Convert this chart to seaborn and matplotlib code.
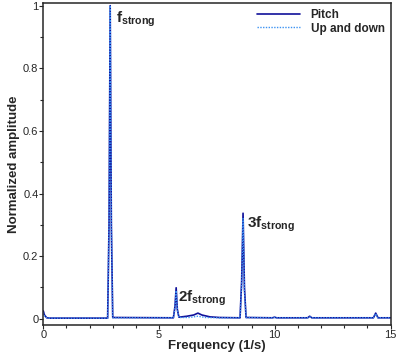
import matplotlib
matplotlib.use("Agg")
import matplotlib.pyplot as plt
import seaborn as sns
import pandas as pd
from matplotlib.ticker import MultipleLocator, FormatStrFormatter

# spectrum (frequency in 1/s, normalized amplitude)
pitch_freq = [0.0, 0.05, 0.15, 0.3, 2.78, 2.84, 2.89, 2.94, 3.0,
              5.62, 5.69, 5.74, 5.79, 5.86, 6.2, 6.5, 6.68, 6.85, 7.2, 7.6,
              8.5, 8.57, 8.63, 8.69, 8.76, 9.9, 9.99, 10.08,
              11.42, 11.51, 11.6, 14.26, 14.36, 14.46, 15.0]
pitch_amp = [0.025, 0.012, 0.003, 0.002, 0.002, 0.3, 1.0, 0.3, 0.004,
             0.003, 0.04, 0.099, 0.03, 0.005, 0.008, 0.012, 0.018, 0.012, 0.006, 0.004,
             0.003, 0.12, 0.337, 0.1, 0.004, 0.003, 0.005, 0.003,
             0.003, 0.008, 0.003, 0.003, 0.018, 0.003, 0.003]

updown_freq = [0.0, 0.05, 0.15, 0.3, 2.78, 2.84, 2.89, 2.94, 3.0,
               5.62, 5.69, 5.74, 5.79, 5.86, 6.3, 6.68, 7.0, 7.6,
               8.5, 8.57, 8.63, 8.69, 8.76, 9.9, 9.99, 10.08,
               11.42, 11.51, 11.6, 14.26, 14.36, 14.46, 15.0]
updown_amp = [0.02, 0.01, 0.003, 0.002, 0.002, 0.3, 1.0, 0.3, 0.003,
              0.003, 0.035, 0.09, 0.028, 0.004, 0.004, 0.008, 0.004, 0.003,
              0.003, 0.11, 0.32, 0.09, 0.004, 0.003, 0.004, 0.003,
              0.003, 0.006, 0.003, 0.003, 0.016, 0.003, 0.003]

x_ticks = [0, 5, 10, 15]

sns.set_style("ticks")
plt.rcParams["font.family"] = ["Liberation Sans", "DejaVu Sans"]
plt.rcParams["mathtext.fontset"] = "custom"
plt.rcParams["mathtext.rm"] = "Liberation Sans:bold"
plt.rcParams["mathtext.bf"] = "Liberation Sans:bold"
plt.rcParams["mathtext.it"] = "Liberation Sans:bold"

df_pitch = pd.DataFrame({"f": pitch_freq, "amp": pitch_amp})
df_ud = pd.DataFrame({"f": updown_freq, "amp": updown_amp})

fig = plt.figure(figsize=(3.99, 3.54), dpi=100)
ax = fig.add_axes([0.1085, 0.0819, 0.8702, 0.9083])

sns.lineplot(data=df_pitch, x="f", y="amp", ax=ax, color="#10109a",
             linewidth=1.2, label="Pitch")
sns.lineplot(data=df_ud, x="f", y="amp", ax=ax, color="#3d93f2",
             linewidth=1.0, linestyle=(0, (1, 1)), label="Up and down")

ax.set_xlim(0, 15)
ax.set_ylim(-0.02, 1.007)
ax.set_xticks(x_ticks)
ax.xaxis.set_minor_locator(MultipleLocator(1))
ax.yaxis.set_major_locator(MultipleLocator(0.2))
ax.yaxis.set_minor_locator(MultipleLocator(0.1))
ax.yaxis.set_major_formatter(FormatStrFormatter("%g"))
ax.tick_params(which="both", direction="out", width=0.8, labelsize=8, pad=0.5)
ax.tick_params(which="major", length=3)
ax.tick_params(which="minor", length=2.5)
for s in ax.spines.values():
    s.set_visible(True)
    s.set_linewidth(1.1)

ax.set_xlabel("Frequency (1/s)", fontsize=9.5, fontweight="bold", labelpad=0)
ax.set_ylabel("Normalized amplitude", fontsize=9.5, fontweight="bold", labelpad=2)

# peak labels
ax.text(3.15, 0.945, r"$\mathbf{f}_{\mathbf{strong}}$", fontsize=11)
ax.text(5.82, 0.055, r"$\mathbf{2f}_{\mathbf{strong}}$", fontsize=11)
ax.text(8.82, 0.29, r"$\mathbf{3f}_{\mathbf{strong}}$", fontsize=11)

leg = ax.legend(loc="upper right", frameon=False, fontsize=8.5,
                handlelength=3.6, borderaxespad=0.1, labelspacing=0.1,
                handletextpad=0.9)
for t in leg.get_texts():
    t.set_fontweight("bold")

fig.savefig("out.png", dpi=100)
